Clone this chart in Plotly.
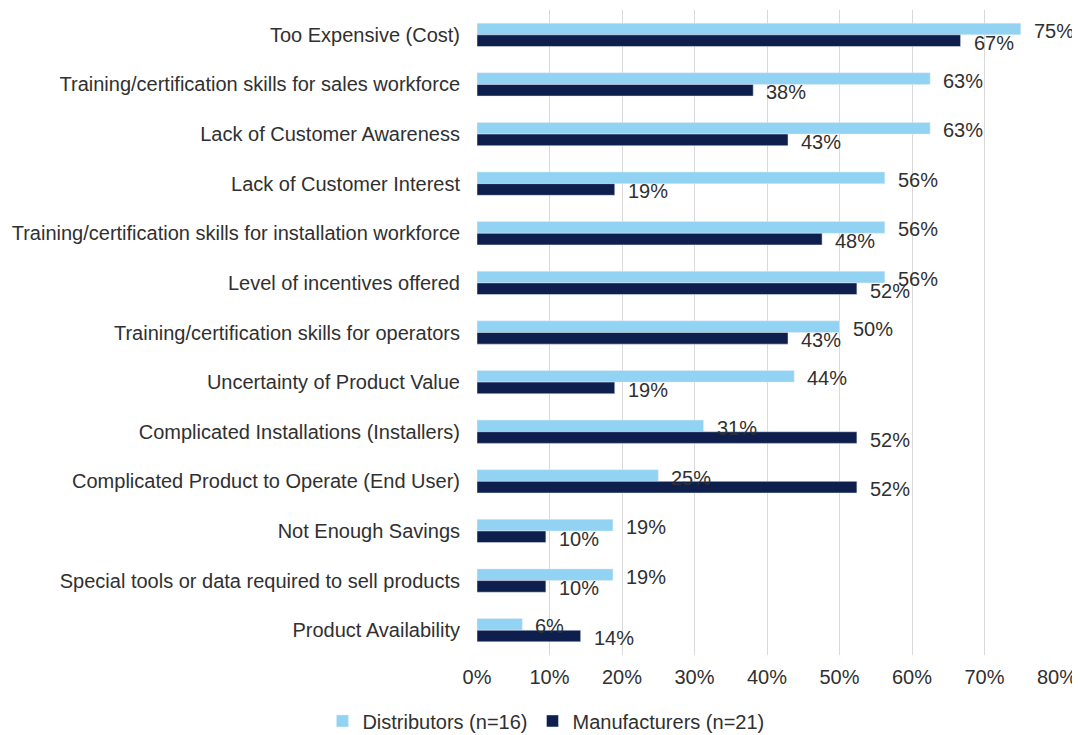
import plotly.graph_objects as go

categories = [
    "Too Expensive (Cost)",
    "Training/certification skills for sales workforce",
    "Lack of Customer Awareness",
    "Lack of Customer Interest",
    "Training/certification skills for installation workforce",
    "Level of incentives offered",
    "Training/certification skills for operators",
    "Uncertainty of Product Value",
    "Complicated Installations (Installers)",
    "Complicated Product to Operate (End User)",
    "Not Enough Savings",
    "Special tools or data required to sell products",
    "Product Availability",
]
distributors = [75.0, 62.5, 62.5, 56.25, 56.25, 56.25, 50.0, 43.75, 31.25, 25.0, 18.75, 18.75, 6.25]
manufacturers = [66.7, 38.1, 42.9, 19.0, 47.6, 52.4, 42.9, 19.0, 52.4, 52.4, 9.5, 9.5, 14.3]
x_ticks = [0, 10, 20, 30, 40, 50, 60, 70, 80]
x_tick_labels = ["0%", "10%", "20%", "30%", "40%", "50%", "60%", "70%", "80%"]

LIGHT = "#92D2F2"
DARK = "#0E1F4D"
FONT = "Liberation Sans, Arial, sans-serif"
TXT = "#303030"
FS = 20

fig = go.Figure()
fig.add_trace(go.Bar(y=categories, x=distributors, orientation="h",
                     name="Distributors (n=16)", marker_color=LIGHT))
fig.add_trace(go.Bar(y=categories, x=manufacturers, orientation="h",
                     name="Manufacturers (n=21)", marker_color=DARK))

annotations = []
for i, (d, m) in enumerate(zip(distributors, manufacturers)):
    for val, off in ((d, -0.117), (m, 0.117)):
        annotations.append(dict(
            x=val, y=i + off, xref="x", yref="y",
            text=f"{int(val + 0.5)}%", showarrow=False,
            xanchor="left", yanchor="middle", xshift=11, yshift=-2,
            font=dict(family=FONT, size=FS, color=TXT),
        ))

# page body adds an 8px offset, so the figure is sized to the remaining viewport
fig.update_layout(
    width=1072, height=727,
    barmode="group", bargap=0.53, bargroupgap=0,
    plot_bgcolor="white", paper_bgcolor="white",
    margin=dict(l=469, r=23, t=2, b=80, autoexpand=False),
    font=dict(family=FONT, size=FS, color=TXT),
    legend=dict(orientation="h", x=0.2933, xanchor="left", xref="container",
                y=-0.072, yanchor="top", font=dict(size=FS),
                itemwidth=30, traceorder="normal"),
    annotations=annotations,
)
fig.update_xaxes(range=[0, 80], tickvals=x_ticks, ticktext=x_tick_labels,
                 showgrid=True, gridcolor="#D9D9D9", gridwidth=1,
                 zeroline=False, showline=False, ticks="", ticklabelstandoff=8,
                 automargin=False)
fig.update_yaxes(autorange="reversed", showgrid=False, zeroline=False,
                 showline=False, ticks="", ticklabelstandoff=16, automargin=False)

fig.write_html("out.html")
